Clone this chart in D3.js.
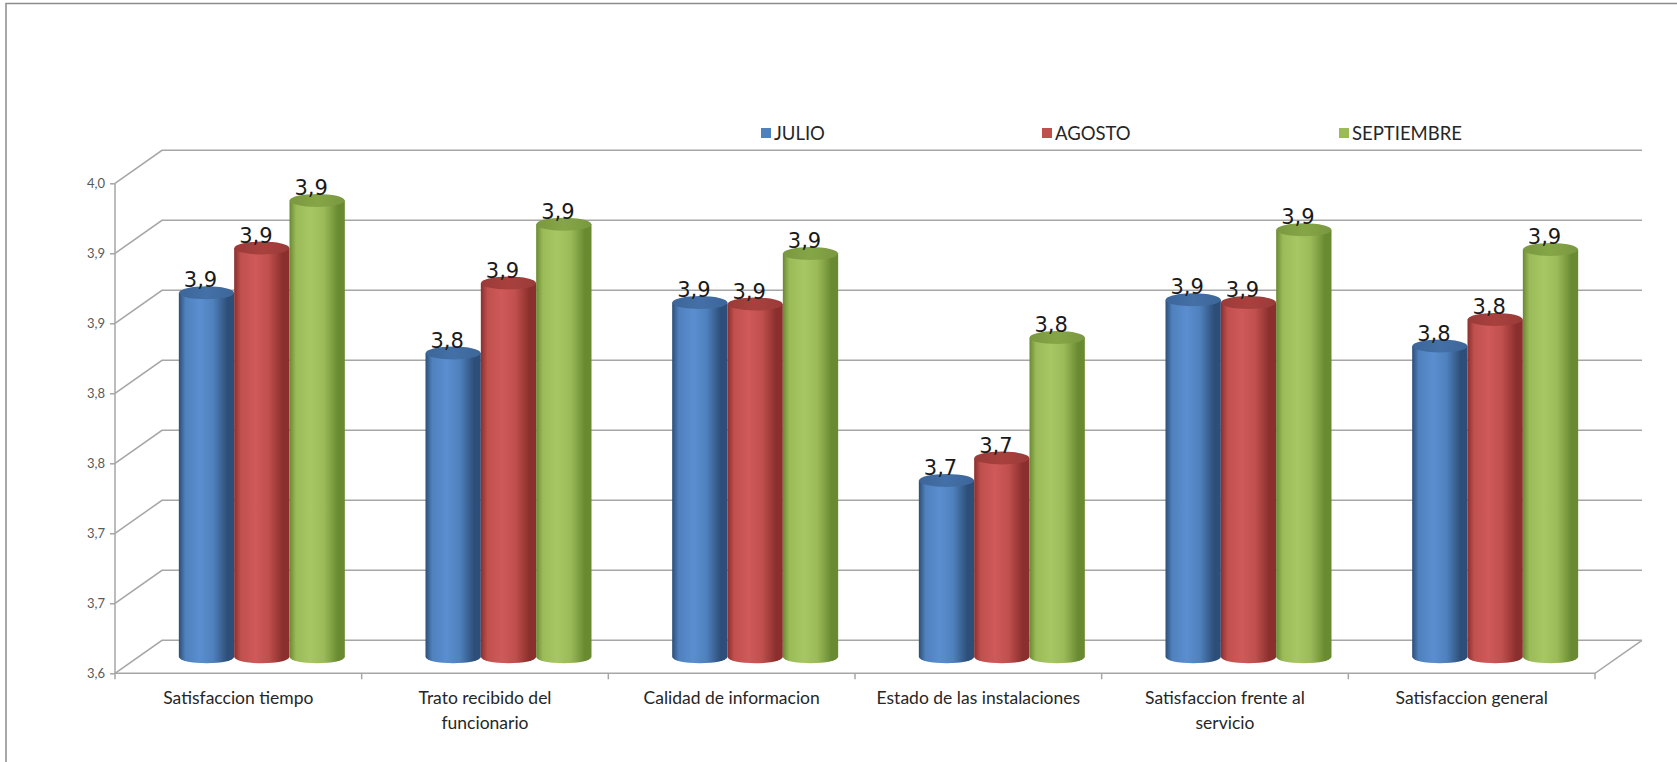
<!DOCTYPE html>
<html>
<head>
<meta charset="utf-8">
<script src="https://cdn.jsdelivr.net/npm/d3@7"></script>
<style>
  body { margin: 0; background: #fff; }
  svg { display: block; }
</style>
</head>
<body>
<div id="chart"></div>
<script>
// datos del grafico
const categories = ["Satisfaccion tiempo", "Trato recibido del funcionario", "Calidad de informacion",
  "Estado de las instalaciones", "Satisfaccion frente al servicio", "Satisfaccion general"];
const catLines = [["Satisfaccion tiempo"], ["Trato recibido del", "funcionario"], ["Calidad de informacion"],
  ["Estado de las instalaciones"], ["Satisfaccion frente al", "servicio"], ["Satisfaccion general"]];
const seriesNames = ["JULIO", "AGOSTO", "SEPTIEMBRE"];
const julio = [3.860, 3.817, 3.853, 3.726, 3.855, 3.822];
const agosto = [3.892, 3.867, 3.852, 3.742, 3.853, 3.841];
const septiembre = [3.926, 3.909, 3.888, 3.828, 3.905, 3.891];
const tickValues = [3.60, 3.65, 3.70, 3.75, 3.80, 3.85, 3.90, 3.95];
const tickLabels = ["3,6", "3,7", "3,7", "3,8", "3,8", "3,9", "3,9", "4,0"];

const W = 1677, H = 762;
const dx = 47, dy = -33;   // profundidad 3d
const axLeft = 115, axRight = 1595, axBottom = 673.3, axTop = 183.3;

const colors = {
  JULIO: { base: "#4F81BD", dark: "#2D4E78", light: "#5A8ED0", top: "#3D6699" },
  AGOSTO: { base: "#C0504D", dark: "#8A2F2D", light: "#D0595A", top: "#9A3B39" },
  SEPTIEMBRE: { base: "#9BBB59", dark: "#6A8A32", light: "#A6C764", top: "#7A9840" }
};

const svg = d3.select("#chart").append("svg")
  .attr("width", W).attr("height", H)
  .style("font-family", "Lato, 'Open Sans', sans-serif");

const defs = svg.append("defs");
seriesNames.forEach((s, i) => {
  let c = colors[s];
  let g = defs.append("linearGradient").attr("id", "body" + i)
    .attr("x1", "0%").attr("x2", "100%").attr("y1", "0%").attr("y2", "0%");
  [[0, c.dark], [0.12, c.base], [0.38, c.light], [0.62, c.base], [0.88, c.dark], [1, c.dark]]
    .forEach(st => g.append("stop").attr("offset", st[0]).attr("stop-color", st[1]));
  let t = defs.append("linearGradient").attr("id", "top" + i)
    .attr("x1", "0%").attr("x2", "100%");
  [[0, c.top], [0.5, d3.color(c.top).brighter(0.25)], [1, c.top]]
    .forEach(st => t.append("stop").attr("offset", st[0]).attr("stop-color", st[1]));
});

// borde del area
svg.append("path").attr("d", `M6,${H} L6,3.5 L${W},3.5`)
  .attr("fill", "none").attr("stroke", "#8C8C8C").attr("stroke-width", 1.5);

const y = d3.scaleLinear().domain([3.6, 3.95]).range([axBottom, axTop]);
const x = d3.scaleBand().domain(categories).range([axLeft, axRight]);
const xInner = d3.scaleBand().domain(seriesNames).range([0, 166]);

const grid = svg.append("g").attr("stroke", "#A6A6A6").attr("stroke-width", 1.5).attr("fill", "none");
tickValues.forEach(v => {
  grid.append("path").attr("d", `M${axLeft},${y(v)} L${axLeft + dx},${y(v) + dy} L${axRight + dx},${y(v) + dy}`);
});
// piso
grid.append("path").attr("d", `M${axLeft},${axBottom} L${axRight},${axBottom} L${axRight + dx},${axBottom + dy}`);

// eje y
const yAxis = d3.axisLeft(y).tickValues(tickValues).tickFormat((d, i) => tickLabels[i]).tickSize(5).tickPadding(5);
const ga = svg.append("g").attr("transform", `translate(${axLeft},0)`).call(yAxis);
ga.select(".domain").attr("stroke", "#A6A6A6").attr("stroke-width", 1.5).attr("d", `M0,${axTop}V${axBottom}`);
ga.selectAll(".tick line").attr("stroke", "#A6A6A6").attr("stroke-width", 1.5);
ga.selectAll(".tick text").attr("fill", "#595959").style("font-size", "13px").style("font-family", "Lato, sans-serif");

// marcas categoria
const ticksX = categories.map(c => x(c)).concat([axRight]);
svg.append("g").selectAll("line").data(ticksX).join("line")
  .attr("x1", d => d).attr("x2", d => d).attr("y1", axBottom).attr("y2", axBottom + 6)
  .attr("stroke", "#A6A6A6").attr("stroke-width", 1.5);

// etiquetas categoria
const lab = svg.append("g").attr("fill", "#262626").style("font-size", "17.5px");
categories.forEach((c, i) => {
  let t = lab.append("text").attr("text-anchor", "middle")
    .attr("x", x(c) + x.bandwidth() / 2).attr("y", 704);
  catLines[i].forEach((ln, j) => t.append("tspan")
    .attr("x", x(c) + x.bandwidth() / 2).attr("dy", j == 0 ? 0 : 25).text(ln));
});

// cilindros
const allSeries = [julio, agosto, septiembre];
const rx = 27.5, ry = 6.5;
const base = y(3.6) + dy / 2;
const fmt = v => (Math.round(v * 10) / 10).toFixed(1).replace(".", ",");
const bars = svg.append("g");
categories.forEach((c, ci) => {
  seriesNames.forEach((s, si) => {
    let v = allSeries[si][ci];
    let x0 = x(c) + (x.bandwidth() - 166) / 2 + dx / 2 + xInner(s);
    let x1 = x0 + xInner.bandwidth();
    let cx = (x0 + x1) / 2;
    let yt = y(v) + dy / 2;
    bars.append("path")
      .attr("d", `M${x0},${yt} L${x0},${base} A${rx},${ry} 0 0 0 ${x1},${base} L${x1},${yt} Z`)
      .attr("fill", `url(#body${si})`);
    bars.append("ellipse").attr("cx", cx).attr("cy", yt).attr("rx", rx).attr("ry", ry)
      .attr("fill", `url(#top${si})`);
    bars.append("text").attr("x", cx - 6).attr("y", yt - ry + 1)
      .attr("text-anchor", "middle").attr("fill", "#1a1a1a")
      .style("font-size", "21px").style("font-family", "'DejaVu Sans', sans-serif")
      .text(fmt(v));
  });
});

// leyenda
const legX = [761, 1042, 1339];
const leg = svg.append("g");
seriesNames.forEach((s, i) => {
  leg.append("rect").attr("x", legX[i]).attr("y", 128).attr("width", 10).attr("height", 10)
    .attr("fill", colors[s].base);
  leg.append("text").attr("x", legX[i] + 13).attr("y", 140).attr("fill", "#262626")
    .style("font-size", "18.5px").text(s);
});
</script>
</body>
</html>
